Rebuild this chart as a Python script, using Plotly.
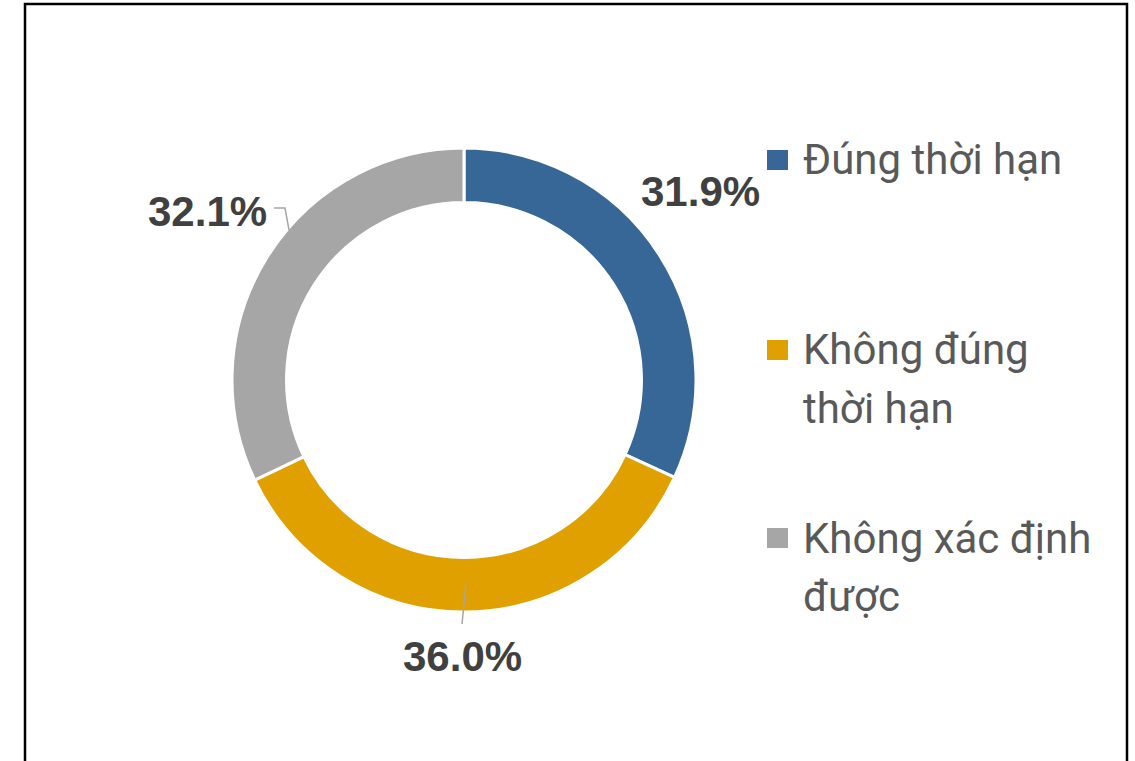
import plotly.graph_objects as go

# data
categories = ["Đúng thời hạn", "Không đúng thời hạn", "Không xác định được"]
legend_lines = [["Đúng thời hạn"], ["Không đúng", "thời hạn"], ["Không xác định", "được"]]
shares = [31.9, 36.0, 32.1]
colors = ["#376796", "#E0A000", "#A6A6A6"]

W, H = 1135, 761


def px(x):
    return x / W


def py(y):
    return 1 - y / H


fig = go.Figure(go.Pie(
    labels=categories,
    values=shares,
    hole=0.765,
    sort=False,
    direction="clockwise",
    rotation=0,
    marker=dict(colors=colors, line=dict(color="white", width=3)),
    textinfo="none",
    hoverinfo="label+percent",
    showlegend=False,
    domain=dict(x=[px(464 - 232), px(464 + 232)], y=[py(380 + 232), py(380 - 232)]),
))

# value labels (Excel style, outside the ring)
label_pos = [(700, 192), (462, 656), (207, 211)]
for v, (x, y) in zip(shares, label_pos):
    fig.add_annotation(x=px(x), y=py(y), xref="paper", yref="paper",
                       xanchor="center", yanchor="middle",
                       text=f"<b>{v:.1f}%</b>", showarrow=False,
                       font=dict(family="Liberation Sans, Arial", size=42, color="#404040"))

# leader lines
fig.add_shape(type="line", xref="paper", yref="paper",
              x0=px(466), y0=py(583), x1=px(462), y1=py(624),
              line=dict(color="#A6A6A6", width=1.5))
fig.add_shape(type="path", xref="paper", yref="paper",
              path=f"M {px(274)},{py(208)} L {px(285)},{py(208)} L {px(289)},{py(230)}",
              line=dict(color="#A6A6A6", width=1.5))

# legend drawn by hand so the spacing matches
legend_y = [160, 350, 538]
for lines, c, y in zip(legend_lines, colors, legend_y):
    fig.add_shape(type="rect", xref="paper", yref="paper",
                  x0=px(767), x1=px(788), y0=py(y + 10), y1=py(y - 10),
                  fillcolor=c, line=dict(width=0))
    for i, t in enumerate(lines):
        fig.add_annotation(x=px(801), y=py(y + 58 * i), xref="paper", yref="paper",
                           xanchor="left", yanchor="middle", align="left",
                           text=t, showarrow=False,
                           font=dict(family="Roboto", size=42, color="#595959"))

# chart border
fig.add_shape(type="rect", xref="paper", yref="paper",
              x0=px(25), x1=px(1127), y0=py(800), y1=py(4),
              line=dict(color="black", width=2.5))

fig.update_layout(
    width=W, height=H,
    margin=dict(l=0, r=0, t=0, b=0),
    paper_bgcolor="white",
    plot_bgcolor="white",
)

fig.write_html("out.html", config={"displayModeBar": False},
               post_script="document.body.style.margin='0';")
